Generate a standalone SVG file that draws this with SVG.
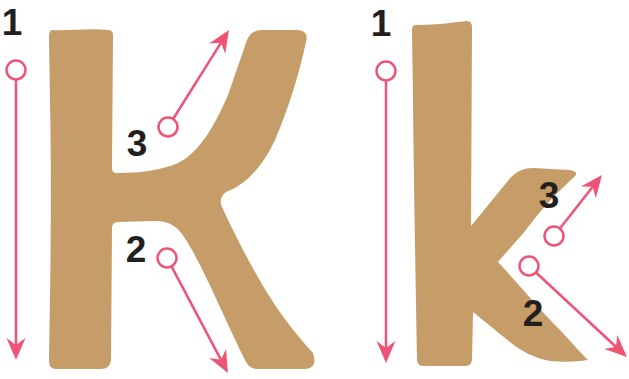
<svg xmlns="http://www.w3.org/2000/svg" width="629" height="379" viewBox="0 0 629 379">
<style>
.letter{fill:#C69C68;}
.ln{stroke:#EE5475;stroke-width:2.5;fill:none;}
.dot{stroke:#EE5475;stroke-width:2.5;fill:#fff;}
.num{font-family:"Liberation Sans",Arial,sans-serif;font-weight:bold;font-size:37px;fill:#231F20;text-anchor:middle;}
</style>
<defs>
<marker id="ah" markerUnits="userSpaceOnUse" markerWidth="30" markerHeight="30" refX="0" refY="0" orient="auto" overflow="visible">
<path d="M14,0 L-8,-9.5 L-1,0 L-8,9.5 Z" fill="#EE5475"/>
</marker>
</defs>
<rect width="629" height="379" fill="#fff"/>
<g id="letter-K">
<path class="letter" d="M52,30 C70,31 90,28 108,30 Q113,30 113,35 L112,168 Q112,174 118,173 C140,173 162,170 178,163 C200,152 215,125 228,95 L247,40 Q251,30 262,30 L298,30 Q309,31 306,42 C300,70 290,105 275,140 C262,168 245,185 226,192 Q218,198 222,207 C235,235 255,275 275,305 C290,327 303,342 313,353 Q318,368 306,369 L258,369 Q250,369 246,362 C230,330 215,295 200,265 C190,246 182,230 172,225 Q166,221 155,221 L118,222 Q112,222 112,228 L111,360 Q110,369 101,369 L56,369 Q49,369 49,361 C50,300 52,200 50,100 L49,38 Q49,30 52,30 Z"/>
</g>
<g id="letter-k">
<path class="letter" d="M416,25 C440,25 455,22 467,21 Q472,21 472,27 L471,226 L507,182 C515,172 522,168 533,168 L570,170 Q580,172 574,177 C560,190 545,205 532,222 C520,238 508,250 498,262 C515,280 540,310 560,330 C572,343 580,352 588,360 C575,362 562,362 550,361 C535,358 522,352 510,342 C495,330 483,320 473,312 L472,360 Q471,366 465,366 L423,366 Q417,366 417,359 C416,300 414,200 413,100 L412,30 Q412,25 416,25 Z"/>
</g>
<g id="connectors">
<line class="ln" x1="16" y1="79.5" x2="16" y2="346" marker-end="url(#ah)"/>
<line class="ln" x1="173.1" y1="119" x2="221.5" y2="41.9" marker-end="url(#ah)"/>
<line class="ln" x1="171.5" y1="266.4" x2="221.4" y2="360.6" marker-end="url(#ah)"/>
<line class="ln" x1="386" y1="80.5" x2="386" y2="349" marker-end="url(#ah)"/>
<line class="ln" x1="559.9" y1="228.5" x2="593.3" y2="186" marker-end="url(#ah)"/>
<line class="ln" x1="536" y1="272.5" x2="616.7" y2="347.5" marker-end="url(#ah)"/>
</g>
<g id="stroke-starts">
<circle class="dot" cx="16" cy="70" r="9.5"/>
<circle class="dot" cx="168" cy="127" r="9.5"/>
<circle class="dot" cx="167" cy="258" r="9.5"/>
<circle class="dot" cx="386" cy="71" r="9.5"/>
<circle class="dot" cx="554" cy="236" r="9.5"/>
<circle class="dot" cx="529" cy="266" r="9.5"/>
</g>
<g id="labels">
<text class="num" x="12" y="35">1</text>
<text class="num" x="137" y="156">3</text>
<text class="num" x="136" y="262">2</text>
<text class="num" x="381" y="36">1</text>
<text class="num" x="549" y="208">3</text>
<text class="num" x="533" y="326">2</text>
</g>
</svg>
